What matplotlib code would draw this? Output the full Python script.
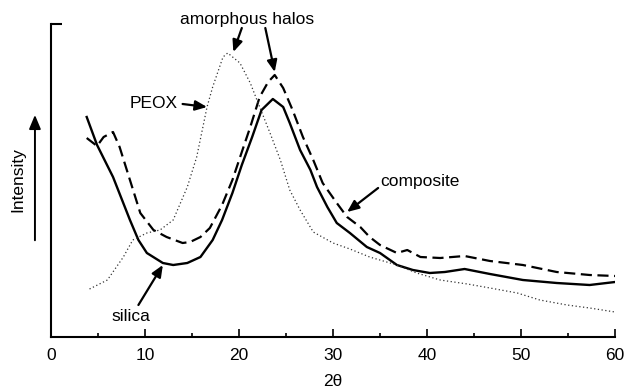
import numpy as np
import matplotlib
matplotlib.use("Agg")
import matplotlib.pyplot as plt

plt.rcParams['font.family'] = ['Liberation Sans', 'DejaVu Sans']

# 2theta (deg) and relative intensity
silica_x = [3.8, 4.9, 6.6, 8.4, 9.3, 10.2, 11.9, 13.0, 14.5, 15.9, 17.2, 18.2, 19.3,
            20.3, 21.4, 22.4, 23.6, 24.7, 25.4, 26.5, 27.6, 28.3, 29.4, 30.4, 31.8,
            33.6, 35.0, 36.8, 38.5, 40.3, 41.9, 44.0, 46.7, 50.2, 53.8, 57.3, 60.0]
silica_y = [220, 192, 160, 117, 97, 84, 74, 72, 74, 80, 97, 117, 144,
            172, 200, 227, 238, 230, 214, 187, 167, 150, 130, 114, 104,
            90, 84, 72, 67, 64, 65, 68, 63, 57, 54, 52, 55]

comp_x = [3.8, 4.9, 5.6, 6.6, 7.3, 8.4, 9.5, 10.9, 12.3, 14.0, 14.8, 15.9, 16.9,
          18.2, 19.3, 20.3, 21.2, 22.2, 23.1, 23.8, 24.7, 25.7, 26.8, 27.9, 28.9,
          30.4, 31.5, 32.9, 33.9, 35.0, 36.8, 37.9, 39.3, 41.4, 44.0, 46.7, 50.2,
          53.8, 57.3, 60.0]
comp_y = [199, 191, 200, 205, 190, 157, 124, 107, 100, 94, 95, 100, 109,
          132, 157, 185, 210, 240, 255, 262, 249, 227, 200, 177, 154,
          134, 120, 110, 100, 92, 84, 87, 80, 79, 81, 76, 72,
          65, 62, 61]

peox_x = [4.1, 6.0, 7.7, 8.7, 10.2, 11.6, 13.0, 14.5, 15.5, 16.6, 17.2, 18.3, 18.8,
          20.1, 21.2, 22.2, 23.3, 24.4, 25.4, 26.5, 27.9, 30.0, 31.8, 33.9, 36.8,
          38.9, 41.4, 44.3, 46.7, 49.6, 52.0, 54.9, 57.3, 60.0]
peox_y = [48, 57, 80, 97, 104, 107, 117, 150, 180, 230, 250, 280, 284,
          274, 254, 230, 204, 177, 147, 127, 105, 94, 88, 80, 72,
          64, 57, 53, 49, 44, 37, 32, 29, 25]

x_ticks = [0, 10, 20, 30, 40, 50, 60]

fig = plt.figure(figsize=(6.24, 3.92), dpi=100)
ax = fig.add_axes([0.0817, 0.1403, 0.9039, 0.7985])

ax.plot(silica_x, silica_y, color='black', lw=1.7)
ax.plot(comp_x, comp_y, color='black', lw=1.6, dashes=(5, 2.5))
ax.plot(peox_x, peox_y, color='#333333', lw=0.9, dashes=(1, 2))

ax.set_xlim(0, 60)
ax.set_ylim(0, 313)
ax.set_xticks(x_ticks)
ax.set_xticks(range(5, 60, 10), minor=True)
ax.tick_params(axis='x', which='major', direction='in', length=6, width=1.2,
               labelsize=12.5, pad=8)
ax.tick_params(axis='x', which='minor', direction='in', length=3, width=1.2)
ax.set_yticks([313])
ax.tick_params(axis='y', direction='in', length=8, width=1.5, labelleft=False)
for s in ['top', 'right']:
    ax.spines[s].set_visible(False)
for s in ['left', 'bottom']:
    ax.spines[s].set_linewidth(1.5)

ax.set_xlabel('2θ', fontsize=12.5, labelpad=8)

arrow = dict(arrowstyle='-|>,head_length=0.7,head_width=0.3', color='black',
             lw=1.6, shrinkA=0, shrinkB=0)
fs = 12.5
ax.text(20.85, 317, 'amorphous halos', fontsize=fs, ha='center', va='center',
        clip_on=False)
ax.annotate('', xy=(19.4, 285), xytext=(20.3, 309), arrowprops=arrow,
            annotation_clip=False)
ax.annotate('', xy=(23.8, 265), xytext=(22.8, 309), arrowprops=arrow,
            annotation_clip=False)
ax.text(10.9, 233, 'PEOX', fontsize=fs, ha='center', va='center')
ax.annotate('', xy=(16.6, 230), xytext=(14.0, 233), arrowprops=arrow)
ax.text(35.0, 155, 'composite', fontsize=fs, ha='left', va='center')
ax.annotate('', xy=(31.5, 125), xytext=(34.8, 149), arrowprops=arrow)
ax.text(8.5, 21, 'silica', fontsize=fs, ha='center', va='center')
ax.annotate('', xy=(11.9, 72), xytext=(9.3, 32), arrowprops=arrow)

# Intensity arrow beside the axis
fig.text(0.029, 0.541, 'Intensity', fontsize=fs, rotation=90,
         ha='center', va='center')
fig.patches.append(matplotlib.patches.FancyArrowPatch(
    (0.056, 0.380), (0.056, 0.714), transform=fig.transFigure,
    arrowstyle='-|>,head_length=0.6,head_width=0.25', mutation_scale=14,
    color='black', lw=1.4))

fig.savefig('out.png', dpi=100)
